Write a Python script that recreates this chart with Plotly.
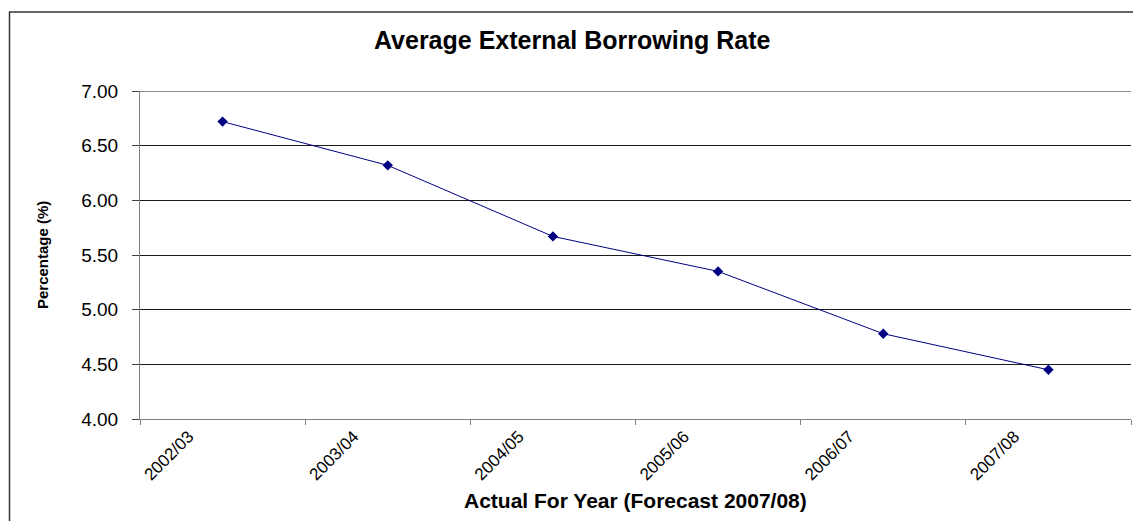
import plotly.graph_objects as go

years = ["2002/03", "2003/04", "2004/05", "2005/06", "2006/07", "2007/08"]
rates = [6.72, 6.32, 5.67, 5.35, 4.78, 4.45]
y_ticks = [4.00, 4.50, 5.00, 5.50, 6.00, 6.50, 7.00]

title_text = "Average External Borrowing Rate"
x_title = "Actual For Year (Forecast 2007/08)"
y_title = "Percentage (%)"

W, H = 1133, 521
L, R, T, B = 140, 2, 91, 102
PW, PH = W - L - R, H - T - B


def px_x(p):
    return (p - L) / PW


def px_y(p):
    return (H - B - p) / PH


FONT = "Arial, Liberation Sans, sans-serif"
NAVY = "#000080"
GRID = "#1a1a1a"

fig = go.Figure()
fig.add_trace(go.Scatter(
    x=years, y=rates, mode="lines+markers",
    line=dict(color=NAVY, width=1),
    marker=dict(symbol="diamond", size=8, color=NAVY),
    showlegend=False,
))

fig.update_layout(
    width=W, height=H,
    margin=dict(l=L, r=R, t=T, b=B, pad=0),
    paper_bgcolor="white", plot_bgcolor="white",
    font=dict(family=FONT, color="black"),
    title=dict(text="<b>" + title_text + "</b>", xref="container", yref="container",
               x=0.505, y=1 - 40 / H, xanchor="center", yanchor="middle",
               font=dict(size=25, family=FONT, color="black")),
    xaxis=dict(
        type="category", range=[-0.5, 5.5], tickson="boundaries",
        ticks="outside", ticklen=5, tickcolor="#808080",
        showline=True, linecolor="#808080", linewidth=1,
        showgrid=False, zeroline=False,
        tickangle=-45, ticklabelshift=-34,
        tickfont=dict(size=17, family=FONT, color="black"),
    ),
    yaxis=dict(
        range=[y_ticks[0], y_ticks[-1]], tickvals=y_ticks, tickformat=".2f",
        ticks="outside", ticklen=7, tickcolor="#404040",
        showline=True, linecolor="#808080", linewidth=1,
        showgrid=True, gridcolor=GRID, gridwidth=1,
        zeroline=False, ticklabelstandoff=10,
        tickfont=dict(size=19, family=FONT, color="black"),
    ),
    annotations=[
        dict(text="<b>" + x_title + "</b>", xref="paper", yref="paper",
             x=0.5, y=px_y(500), xanchor="center", yanchor="middle",
             showarrow=False, font=dict(size=21, family=FONT, color="black")),
        dict(text="<b>" + y_title + "</b>", xref="paper", yref="paper",
             x=px_x(42), y=0.5, xanchor="center", yanchor="middle", textangle=-90,
             showarrow=False, font=dict(size=15, family=FONT, color="black")),
    ],
    shapes=[
        # top gridline (at the edge of the range)
        dict(type="line", xref="paper", yref="y",
             x0=0, x1=1, y0=y_ticks[-1], y1=y_ticks[-1],
             line=dict(color=GRID, width=1)),
        # chart-area border
        dict(type="line", xref="paper", yref="paper",
             x0=px_x(9), x1=px_x(1133), y0=px_y(12), y1=px_y(12),
             line=dict(color="#333333", width=1.5)),
        dict(type="line", xref="paper", yref="paper",
             x0=px_x(9.5), x1=px_x(9.5), y0=px_y(12), y1=px_y(521),
             line=dict(color="#333333", width=1.5)),
    ],
)

fig.write_html("out.html",
               config={"displayModeBar": False},
               post_script="document.body.style.margin='0';document.body.style.overflow='hidden';")
